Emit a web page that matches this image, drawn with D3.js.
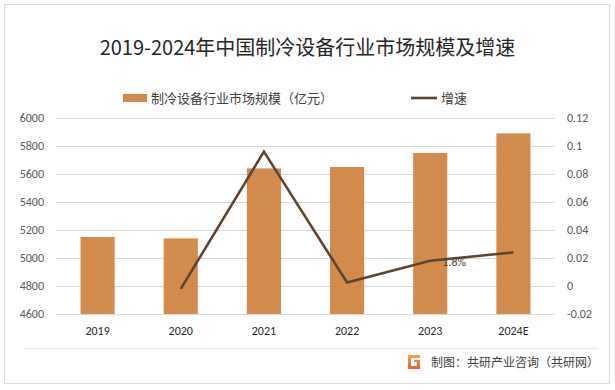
<!DOCTYPE html>
<html><head><meta charset="utf-8">
<script src="https://cdn.jsdelivr.net/npm/d3@7/dist/d3.min.js"></script>
<style>body{margin:0;background:#fff;}svg{display:block;font-family:"Microsoft YaHei","Noto Sans CJK SC",sans-serif;}</style>
</head><body>
<script>
const categories = ["2019","2020","2021","2022","2023","2024E"];
const marketSize = [5150, 5140, 5640, 5650, 5750, 5890];
const growth = [null, -0.002, 0.096, 0.0025, 0.018, 0.024];
const leftTicks = [4600,4800,5000,5200,5400,5600,5800,6000];
const rightTicks = [-0.02,0,0.02,0.04,0.06,0.08,0.1,0.12];
const rightTickLabels = ["-0.02","0","0.02","0.04","0.06","0.08","0.1","0.12"];
const title = "2019-2024年中国制冷设备行业市场规模及增速";
const seriesNames = ["制冷设备行业市场规模（亿元）","增速"];
const pointLabels = [null,null,null,null,"1.8%",null];
const source = "制图：共研产业咨询（共研网）";

const W=615,H=390;
const numFont="Carlito,Calibri,'Liberation Sans',sans-serif";
const svg=d3.select("body").append("svg").attr("width",W).attr("height",H);
svg.append("rect").attr("x",4.5).attr("y",4.5).attr("width",605).attr("height",379).attr("fill","#fff").attr("stroke","#d9d9d9");

const x=d3.scaleBand().domain(categories).range([56,555]).paddingInner(0.59).paddingOuter(0.295);
const yL=d3.scaleLinear().domain([4600,6000]).range([314,118]);
const yR=d3.scaleLinear().domain([-0.02,0.12]).range([314,118]);

// gridlines
svg.append("g").selectAll("line").data(leftTicks).join("line")
 .attr("x1",56).attr("x2",555).attr("y1",d=>yL(d)+0.5).attr("y2",d=>yL(d)+0.5)
 .attr("stroke","#d9d9d9").attr("stroke-width",1);

// left axis
const gl=svg.append("g").attr("transform","translate(56,0)")
 .call(d3.axisLeft(yL).tickValues(leftTicks).tickSize(0).tickPadding(12).tickFormat(d3.format("d")));
gl.select(".domain").remove();
gl.selectAll("text").attr("font-size",12).attr("fill","#595959").attr("font-family",numFont);

// right axis
const gr=svg.append("g").attr("transform","translate(555,0)")
 .call(d3.axisRight(yR).tickValues(rightTicks).tickSize(0).tickPadding(12).tickFormat((d,i)=>rightTickLabels[i]));
gr.select(".domain").remove();
gr.selectAll("text").attr("font-size",12).attr("fill","#595959").attr("font-family",numFont);

// bottom axis
const gb=svg.append("g").attr("transform","translate(0,314)")
 .call(d3.axisBottom(x).tickSize(0).tickPadding(12));
gb.select(".domain").remove();
gb.selectAll("text").attr("font-size",12).attr("fill","#262626").attr("font-family",numFont);

// bars
svg.append("g").selectAll("rect").data(marketSize).join("rect")
 .attr("x",(d,i)=>x(categories[i])).attr("width",x.bandwidth())
 .attr("y",d=>yL(d)).attr("height",d=>yL(4600)-yL(d)).attr("fill","#D38B4D");

// line
const pts=growth.map((g,i)=>({g,i})).filter(p=>p.g!==null);
const line=d3.line().x(p=>x(categories[p.i])+x.bandwidth()/2).y(p=>yR(p.g));
svg.append("path").datum(pts).attr("d",line).attr("fill","none").attr("stroke","#5E4530").attr("stroke-width",2.6).attr("stroke-linejoin","miter");

// point labels
svg.append("g").selectAll("text").data(pointLabels.map((t,i)=>({t,i})).filter(d=>d.t))
 .join("text").attr("x",d=>x(categories[d.i])+x.bandwidth()/2+24).attr("y",d=>yR(growth[d.i])+5)
 .attr("text-anchor","middle").attr("font-size",12).attr("fill","#404040")
 .attr("font-family",numFont).text(d=>d.t);

// title
svg.append("text").attr("x",307.5).attr("y",55).attr("text-anchor","middle").attr("font-size",20).attr("fill","#262626").text(title);

// legend
svg.append("rect").attr("x",123).attr("y",94).attr("width",24).attr("height",8).attr("fill","#D38B4D");
svg.append("text").attr("x",151).attr("y",102.5).attr("font-size",13).attr("fill","#404040").text(seriesNames[0]);
svg.append("line").attr("x1",411).attr("x2",437).attr("y1",98).attr("y2",98).attr("stroke","#5E4530").attr("stroke-width",2.6);
svg.append("text").attr("x",441).attr("y",102.5).attr("font-size",13).attr("fill","#404040").text(seriesNames[1]);

// footer
svg.append("line").attr("x1",25).attr("x2",598).attr("y1",348.5).attr("y2",348.5).attr("stroke","#e6e6e6");
const lg=svg.append("g").attr("transform","translate(408,355)");
const grad=svg.append("defs").append("linearGradient").attr("id","lg").attr("x1",0).attr("y1",0).attr("x2",0).attr("y2",1);
grad.append("stop").attr("offset",0).attr("stop-color","#f8a04a");
grad.append("stop").attr("offset",1).attr("stop-color","#ef5a3a");
lg.append("path").attr("d","M0,0 H12 V3 H3 V11 H9 V7 H6 V5 H12 V14 H0 Z").attr("fill","url(#lg)");
svg.append("text").attr("x",431).attr("y",366.5).attr("font-size",12).attr("fill","#404040").text(source);
</script>
</body></html>
